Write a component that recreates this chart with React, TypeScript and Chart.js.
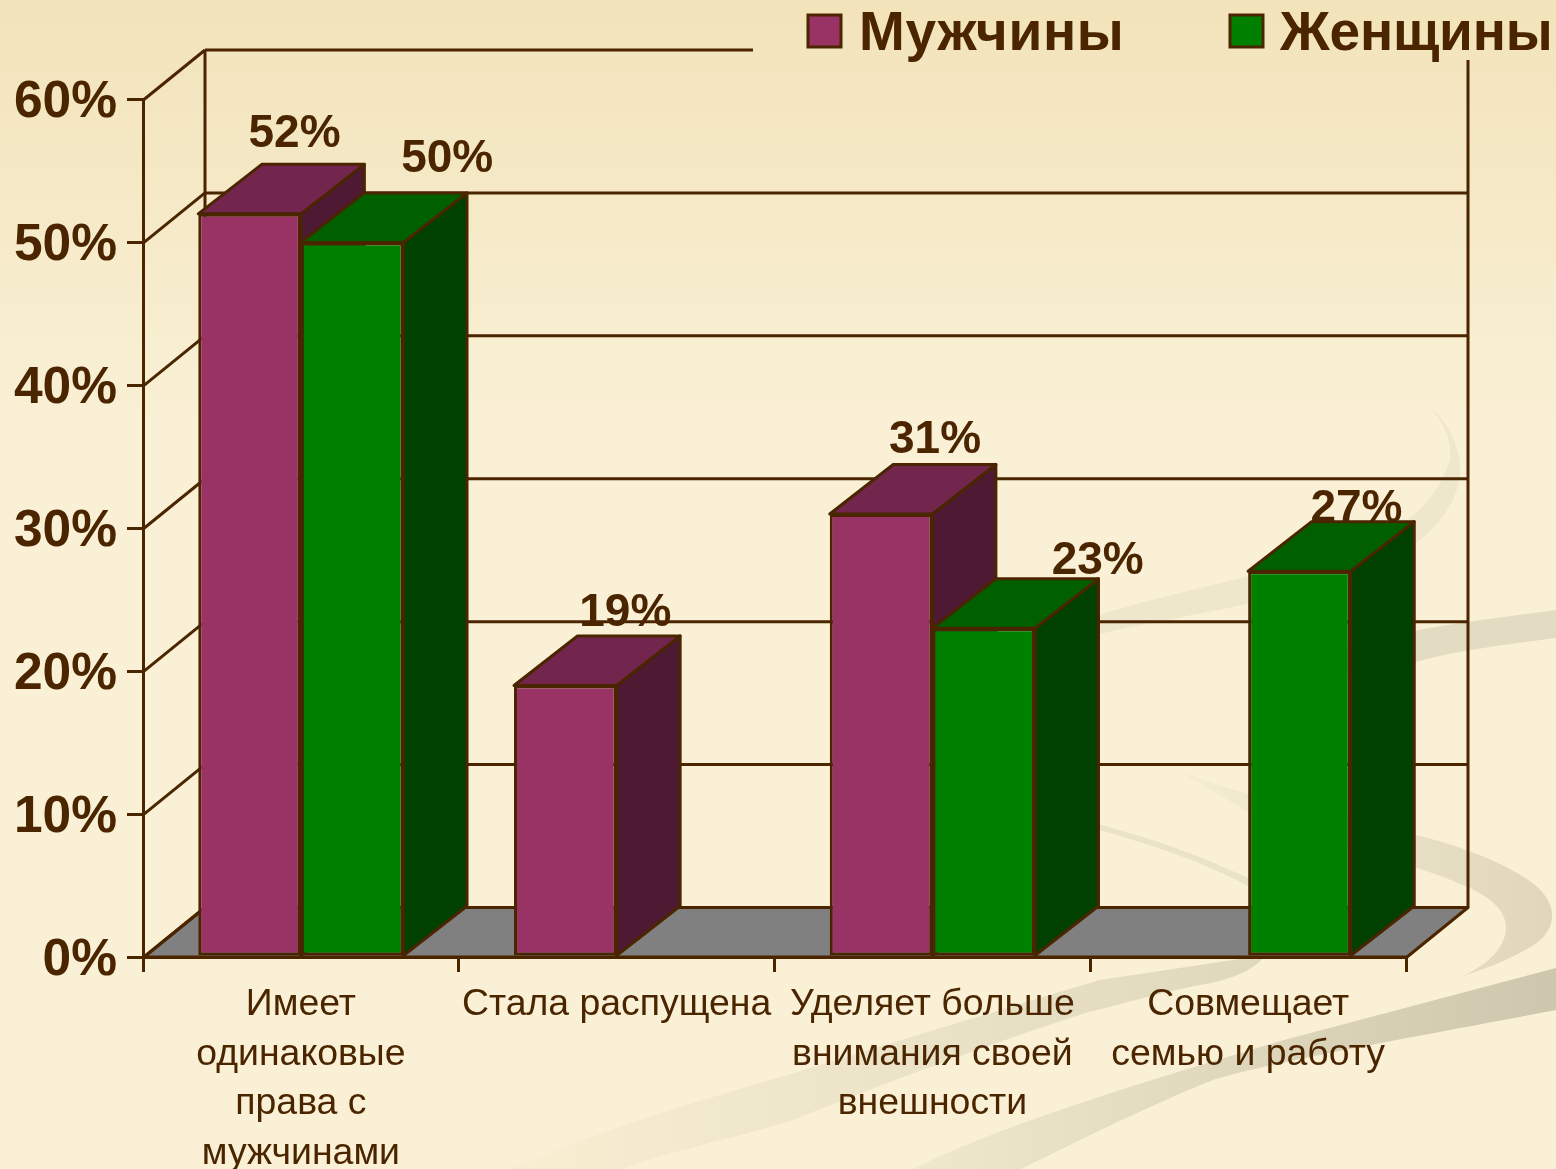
import React, { useEffect, useRef } from "react";
import { Chart, registerables } from "chart.js";

Chart.register(...registerables);

const categories = [
  ["Имеет", "одинаковые", "права с", "мужчинами"],
  ["Стала распущена"],
  ["Уделяет больше", "внимания своей", "внешности"],
  ["Совмещает", "семью и работу"],
];
const menValues = [52, 19, 31, null];
const womenValues = [50, null, 23, 27];
const seriesNames = ["Мужчины", "Женщины"];
const yTicks = [0, 10, 20, 30, 40, 50, 60];

const INK = "#4a2500";
const FONT = '"Liberation Sans", Arial, sans-serif';
const DX = 61;
const DY = 49.5;
const BAR_DX = 63.5;
const MEN = { front: "#993366", top: "#73264d", side: "#4d1933" };
const WOMEN = { front: "#008000", top: "#006000", side: "#004000" };
const FLOOR = "#808080";
// label offsets from each bar's front top centre: [dx, baseline dy]
const menLabelOffset = [[45, -67], [60, -59], [54, -61], [0, 0]];
const womenLabelOffset = [[95, -70], [0, 0], [114, -54], [57, -49]];

function poly(ctx: CanvasRenderingContext2D, pts: number[][], fill?: string) {
  ctx.beginPath();
  pts.forEach((p, i) => (i ? ctx.lineTo(p[0], p[1]) : ctx.moveTo(p[0], p[1])));
  ctx.closePath();
  if (fill) {
    ctx.fillStyle = fill;
    ctx.fill();
  }
  ctx.lineJoin = "round";
  ctx.strokeStyle = INK;
  ctx.lineWidth = 3;
  ctx.stroke();
}

function line(ctx: CanvasRenderingContext2D, x1: number, y1: number, x2: number, y2: number) {
  ctx.beginPath();
  ctx.moveTo(x1, y1);
  ctx.lineTo(x2, y2);
  ctx.strokeStyle = INK;
  ctx.lineWidth = 3;
  ctx.stroke();
}

function drawBackdrop(ctx: CanvasRenderingContext2D, w: number, h: number) {
  const bg = ctx.createLinearGradient(0, 0, 0, 420);
  bg.addColorStop(0, "#f2e3ba");
  bg.addColorStop(1, "#f9f0d5");
  ctx.fillStyle = bg;
  ctx.fillRect(0, 0, w, h);

  // big lower band
  const a = ctx.createLinearGradient(900, 0, 1556, 0);
  a.addColorStop(0, "#f1e9cd");
  a.addColorStop(1, "#cfc7ad");
  ctx.fillStyle = a;
  ctx.beginPath();
  ctx.moveTo(913, 1169);
  ctx.bezierCurveTo(1000, 1125, 1150, 1080, 1284, 1040);
  ctx.lineTo(1556, 968);
  ctx.lineTo(1556, 1010);
  ctx.bezierCurveTo(1400, 1040, 1280, 1060, 1213, 1080);
  ctx.bezierCurveTo(1150, 1105, 1080, 1140, 1021, 1169);
  ctx.closePath();
  ctx.fill();

  // middle band ending in a tip under the axis
  const b = ctx.createLinearGradient(510, 0, 1266, 0);
  b.addColorStop(0, "#f8efd3");
  b.addColorStop(1, "#e0d8bd");
  ctx.fillStyle = b;
  ctx.beginPath();
  ctx.moveTo(510, 1169);
  ctx.bezierCurveTo(650, 1110, 760, 1085, 846, 1057);
  ctx.bezierCurveTo(950, 1025, 1050, 995, 1100, 980);
  ctx.lineTo(1266, 955);
  ctx.bezierCurveTo(1255, 968, 1240, 978, 1200, 985);
  ctx.bezierCurveTo(1150, 995, 1120, 1005, 1089, 1012);
  ctx.bezierCurveTo(1000, 1040, 880, 1085, 793, 1120);
  ctx.bezierCurveTo(730, 1140, 670, 1150, 623, 1169);
  ctx.closePath();
  ctx.fill();

  // right hook
  const c = ctx.createLinearGradient(1170, 0, 1556, 0);
  c.addColorStop(0, "#f6eed1");
  c.addColorStop(1, "#dfd6bc");
  ctx.fillStyle = c;
  ctx.beginPath();
  ctx.moveTo(1177, 770);
  ctx.bezierCurveTo(1250, 800, 1340, 815, 1415, 835);
  ctx.bezierCurveTo(1460, 845, 1510, 865, 1535, 885);
  ctx.bezierCurveTo(1562, 908, 1556, 935, 1525, 950);
  ctx.bezierCurveTo(1505, 962, 1480, 970, 1461, 977);
  ctx.bezierCurveTo(1480, 968, 1500, 955, 1505, 935);
  ctx.bezierCurveTo(1510, 915, 1495, 900, 1470, 888);
  ctx.bezierCurveTo(1420, 865, 1320, 840, 1245, 810);
  ctx.closePath();
  ctx.fill();

  // thin stroke
  ctx.fillStyle = "#ebe3c8";
  ctx.beginPath();
  ctx.moveTo(1097, 824);
  ctx.bezierCurveTo(1160, 840, 1210, 860, 1248, 878);
  ctx.lineTo(1248, 886);
  ctx.bezierCurveTo(1200, 860, 1150, 845, 1097, 829);
  ctx.closePath();
  ctx.fill();

  // straight right band
  ctx.fillStyle = "#e4dcc2";
  ctx.beginPath();
  ctx.moveTo(1340, 648);
  ctx.bezierCurveTo(1400, 630, 1480, 620, 1556, 610);
  ctx.lineTo(1556, 638);
  ctx.bezierCurveTo(1500, 645, 1450, 652, 1415, 662);
  ctx.lineTo(1340, 680);
  ctx.closePath();
  ctx.fill();

  // upper light band curling up to a point
  ctx.fillStyle = "#efe7cb";
  ctx.beginPath();
  ctx.moveTo(1033, 640);
  ctx.bezierCurveTo(1120, 600, 1250, 580, 1350, 550);
  ctx.bezierCurveTo(1420, 525, 1440, 490, 1450, 460);
  ctx.bezierCurveTo(1452, 440, 1445, 425, 1432, 409);
  ctx.bezierCurveTo(1450, 425, 1462, 450, 1460, 475);
  ctx.bezierCurveTo(1455, 520, 1410, 555, 1350, 580);
  ctx.bezierCurveTo(1260, 605, 1130, 625, 1097, 635);
  ctx.closePath();
  ctx.fill();
}

const scene3d = {
  id: "scene3d",
  beforeDraw(chart: any) {
    const { ctx, width, height, scales } = chart;
    const y = scales.y;
    const L = scales.x.left + 1;
    const R = scales.x.right + 1;
    const base = y.getPixelForValue(0);
    ctx.save();
    drawBackdrop(ctx, width, height);
    // floor
    poly(ctx, [[L, base], [L + DX, base - DY], [R + DX, base - DY], [R, base]], FLOOR);
    // walls
    const legendLeft = 753;
    const legendBottom = 60;
    yTicks.forEach((t) => {
      const p = y.getPixelForValue(t);
      line(ctx, L, p, L + DX, p - DY);
      if (t > 0) {
        line(ctx, L + DX, p - DY, t === 60 ? legendLeft : R + DX, p - DY);
      }
    });
    const topBack = y.getPixelForValue(60) - DY;
    line(ctx, L + DX, topBack, L + DX, base - DY);
    line(ctx, R + DX, legendBottom, R + DX, base - DY);
    ctx.restore();
  },
  // every side and top face goes down before the front faces the library draws
  beforeDatasetsDraw(chart: any) {
    const { ctx, data } = chart;
    const palette = [MEN, WOMEN];
    ctx.save();
    data.labels.forEach((_: any, i: number) => {
      data.datasets.forEach((ds: any, di: number) => {
        if (ds.data[i] == null) return;
        const el = chart.getDatasetMeta(di).data[i];
        const { x, y, base, width } = el.getProps(["x", "y", "base", "width"], true);
        const l = x - width / 2;
        const r = x + width / 2;
        poly(ctx, [[r, y], [r + BAR_DX, y - DY], [r + BAR_DX, base - DY], [r, base]], palette[di].side);
        poly(ctx, [[l, y], [l + BAR_DX, y - DY], [r + BAR_DX, y - DY], [r, y]], palette[di].top);
      });
    });
    ctx.restore();
  },
  afterDatasetsDraw(chart: any) {
    const { ctx, data } = chart;
    const offsets = [menLabelOffset, womenLabelOffset];
    ctx.save();
    ctx.fillStyle = INK;
    ctx.font = `bold 46px ${FONT}`;
    ctx.textAlign = "center";
    ctx.textBaseline = "alphabetic";
    data.datasets.forEach((ds: any, di: number) => {
      chart.getDatasetMeta(di).data.forEach((el: any, i: number) => {
        if (ds.data[i] == null) return;
        const { x, y } = el.getProps(["x", "y"], true);
        ctx.fillText(`${ds.data[i]}%`, x + offsets[di][i][0], y + offsets[di][i][1]);
      });
    });
    // legend
    const swatches = [808, 1230];
    const textStart = [859, 1280];
    const spacing = ["0.7px", "-0.2px"];
    const fills = [MEN.front, WOMEN.front];
    ctx.font = `bold 55px ${FONT}`;
    ctx.textAlign = "left";
    data.datasets.forEach((ds: any, di: number) => {
      ctx.fillStyle = fills[di];
      ctx.strokeStyle = INK;
      ctx.lineWidth = 3;
      ctx.fillRect(swatches[di], 15, 33, 32);
      ctx.strokeRect(swatches[di], 15, 33, 32);
      ctx.fillStyle = INK;
      (ctx as any).letterSpacing = spacing[di];
      ctx.fillText(ds.label, textStart[di], 50);
    });
    ctx.restore();
  },
};

export default function App() {
  const ref = useRef<HTMLCanvasElement>(null);
  useEffect(() => {
    const chart = new Chart(ref.current as HTMLCanvasElement, {
      type: "bar",
      data: {
        labels: categories as any,
        datasets: [
          {
            label: seriesNames[0],
            data: menValues,
            backgroundColor: MEN.front,
            borderColor: INK,
            borderWidth: 3,
            borderSkipped: false,
          },
          {
            label: seriesNames[1],
            data: womenValues,
            backgroundColor: WOMEN.front,
            borderColor: INK,
            borderWidth: 3,
            borderSkipped: false,
          },
        ],
      },
      options: {
        responsive: false,
        animation: false,
        events: [],
        layout: { padding: { left: 0, top: 99.5, right: 150, bottom: 0 } },
        datasets: { bar: { categoryPercentage: 0.65, barPercentage: 1 } },
        plugins: { legend: { display: false }, tooltip: { enabled: false }, title: { display: false } },
        scales: {
          x: {
            afterFit: (s: any) => {
              s.height = 212;
            },
            grid: { drawOnChartArea: false, drawTicks: true, tickLength: 15, lineWidth: 3, color: INK },
            border: { display: true, color: INK, width: 3 },
            ticks: {
              autoSkip: false,
              maxRotation: 0,
              minRotation: 0,
              padding: 8,
              color: INK,
              font: { family: FONT, size: 37.4, lineHeight: 49.5 / 37.4 },
            },
          },
          y: {
            min: 0,
            max: 60,
            afterFit: (s: any) => {
              s.width = 143;
            },
            grid: { drawOnChartArea: false, drawTicks: true, tickLength: 16, lineWidth: 3, color: INK },
            border: { display: true, color: INK, width: 3 },
            ticks: {
              stepSize: 10,
              padding: 10,
              color: INK,
              font: { family: FONT, size: 51.5, weight: "bold", lineHeight: 7 / 51.5 },
              // the empty first line moves the label down by half the line height
              callback: (v: any) => ["", `${v}%`],
            },
          },
        },
      },
      plugins: [scene3d],
    } as any);
    return () => chart.destroy();
  }, []);
  return (
    <canvas
      ref={ref}
      width={1556}
      height={1169}
      style={{ position: "fixed", left: 0, top: 0, width: 1556, height: 1169, display: "block" }}
    />
  );
}
